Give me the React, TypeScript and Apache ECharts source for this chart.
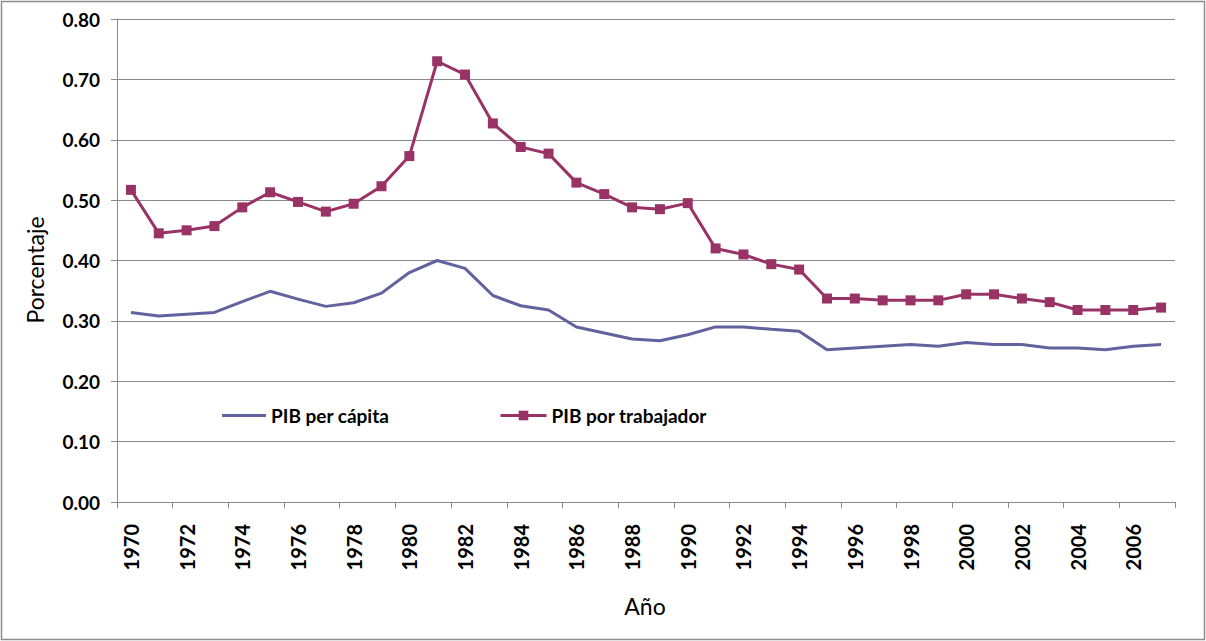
import React, { useEffect, useRef } from "react";
import * as echarts from "echarts";

const years: string[] = [
  "1970","1971","1972","1973","1974","1975","1976","1977","1978","1979",
  "1980","1981","1982","1983","1984","1985","1986","1987","1988","1989",
  "1990","1991","1992","1993","1994","1995","1996","1997","1998","1999",
  "2000","2001","2002","2003","2004","2005","2006","2007",
];

const pibPerCapita: number[] = [
  0.314, 0.308, 0.311, 0.314, 0.332, 0.349, 0.336, 0.324, 0.330, 0.346,
  0.380, 0.400, 0.387, 0.342, 0.325, 0.318, 0.290, 0.280, 0.270, 0.267,
  0.277, 0.290, 0.290, 0.286, 0.283, 0.252, 0.255, 0.258, 0.261, 0.258,
  0.264, 0.261, 0.261, 0.255, 0.255, 0.252, 0.258, 0.261,
];

const pibPorTrabajador: number[] = [
  0.517, 0.445, 0.450, 0.457, 0.488, 0.513, 0.497, 0.481, 0.494, 0.523,
  0.573, 0.730, 0.708, 0.627, 0.588, 0.577, 0.529, 0.510, 0.488, 0.485,
  0.495, 0.420, 0.410, 0.394, 0.385, 0.337, 0.337, 0.334, 0.334, 0.334,
  0.344, 0.344, 0.337, 0.331, 0.318, 0.318, 0.318, 0.322,
];

const seriesNames = ["PIB per cápita", "PIB por trabajador"];
const yAxisName = "Porcentaje";
const xAxisName = "Año";

const BLUE = "#62629f";
const RED = "#993366";
const GRID = "#8a8a8a";
const FONT = "Lato, 'Open Sans', sans-serif";

export default function App() {
  const ref = useRef<HTMLDivElement>(null);

  useEffect(() => {
    document.body.style.margin = "0";
    if (!ref.current) return;
    const chart = echarts.init(ref.current, null, { renderer: "svg" });
    chart.setOption({
      animation: false,
      backgroundColor: "#ffffff",
      textStyle: { fontFamily: FONT },
      graphic: [
        {
          type: "rect",
          shape: { x: 1.5, y: 1.5, width: 1203, height: 638 },
          style: { fill: "none", stroke: "#8c8c8c", lineWidth: 1.5 },
          silent: true,
        },
        {
          type: "text",
          x: 35,
          y: 270,
          rotation: Math.PI / 2,
          style: {
            text: yAxisName,
            fontFamily: FONT,
            fontSize: 23,
            fill: "#000",
            align: "center",
            verticalAlign: "middle",
          },
        },
        {
          type: "text",
          x: 645,
          y: 606,
          style: {
            text: xAxisName,
            fontFamily: FONT,
            fontSize: 23,
            fill: "#000",
            align: "center",
            verticalAlign: "middle",
          },
        },
      ],
      legend: [
        {
          data: [{ name: seriesNames[0], icon: "rect" }],
          left: 222,
          top: 406,
          padding: 0,
          itemWidth: 44,
          itemHeight: 3,
          itemGap: 0,
          textStyle: { fontFamily: FONT, fontSize: 19, fontWeight: "bold", color: "#000" },
        },
        {
          data: [seriesNames[1]],
          left: 499,
          top: 406,
          padding: 0,
          itemWidth: 46,
          itemHeight: 12,
          itemGap: 0,
          lineStyle: { width: 3 },
          textStyle: { fontFamily: FONT, fontSize: 19, fontWeight: "bold", color: "#000" },
        },
      ],
      grid: { left: 117, right: 31, top: 19, bottom: 139, containLabel: false },
      xAxis: {
        type: "category",
        data: years,
        boundaryGap: true,
        axisLine: { lineStyle: { color: GRID, width: 1 } },
        axisTick: { show: true, interval: 1, length: 6, lineStyle: { color: GRID } },
        axisLabel: {
          interval: 1,
          rotate: 90,
          margin: 22,
          fontFamily: FONT,
          fontSize: 20,
          fontWeight: "bold",
          color: "#000",
        },
        splitLine: { show: false },
      },
      yAxis: {
        type: "value",
        min: 0,
        max: 0.8,
        interval: 0.1,
        axisLine: { show: true, lineStyle: { color: GRID, width: 1 } },
        axisTick: { show: true, length: 6, lineStyle: { color: GRID } },
        axisLabel: {
          margin: 17,
          fontFamily: FONT,
          fontSize: 19,
          fontWeight: "bold",
          color: "#000",
          formatter: (v: number) => v.toFixed(2),
        },
        splitLine: { show: true, lineStyle: { color: GRID, width: 1 } },
      },
      series: [
        {
          name: seriesNames[0],
          type: "line",
          data: pibPerCapita,
          symbol: "none",
          showSymbol: false,
          lineStyle: { color: BLUE, width: 3 },
          itemStyle: { color: BLUE },
        },
        {
          name: seriesNames[1],
          type: "line",
          data: pibPorTrabajador,
          symbol: "rect",
          symbolSize: 10,
          lineStyle: { color: RED, width: 3 },
          itemStyle: { color: RED },
        },
      ],
    });
    return () => chart.dispose();
  }, []);

  return <div ref={ref} style={{ width: 1206, height: 641 }} />;
}
